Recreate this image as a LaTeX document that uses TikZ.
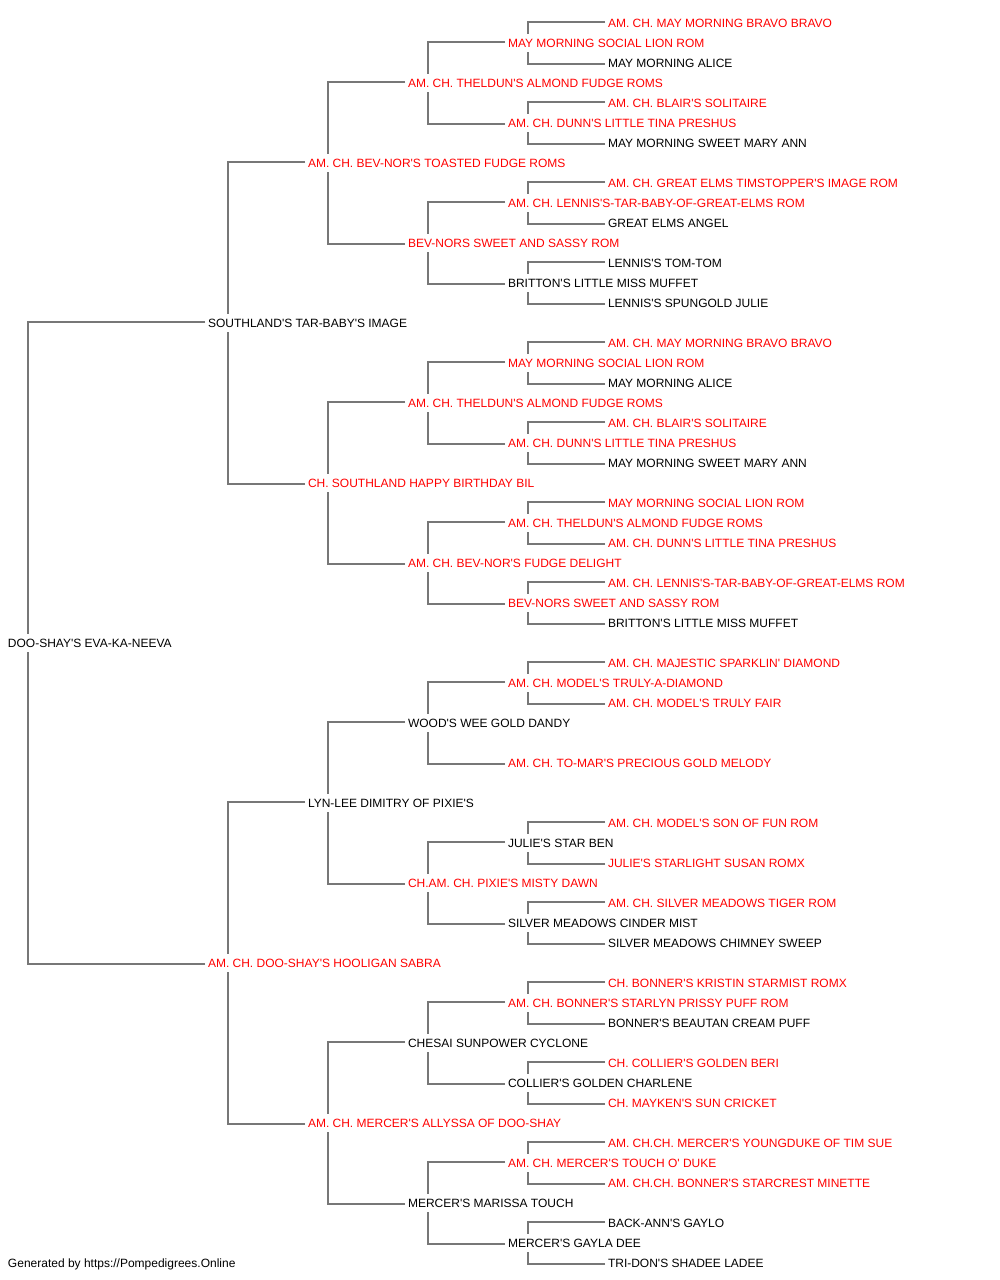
\documentclass[tikz,border=0pt]{standalone}
\usepackage{fontspec}
\setmainfont{Liberation Sans}[Ligatures=TeXOff]
\definecolor{pedred}{RGB}{255,0,0}
\definecolor{pedline}{RGB}{119,119,119}
\tikzset{
  nm/.style={anchor=west, inner sep=0pt, outer sep=0pt, text height=8.6pt, text depth=0pt, font=\fontsize{12pt}{14pt}\selectfont, text=black},
  rd/.style={nm, text=pedred},
  conn/.style={draw=pedline, line width=2pt}
}
\newcommand\pedlinkup[2]{\draw[conn] ([xshift=-3pt,yshift=0.8pt]#2.west) -| ([xshift=20pt,yshift=9pt]#1.west);}
\newcommand\pedlinkdn[2]{\draw[conn] ([xshift=-3pt,yshift=-1.2pt]#2.west) -| ([xshift=20pt,yshift=-9pt]#1.west);}
\newcommand\pedfam[3]{\pedlinkup{#1}{#2}\pedlinkdn{#1}{#3}}
\begin{document}
\begin{tikzpicture}[x=1pt,y=-1pt]
\useasboundingbox[fill=white] (0,0) rectangle (1000,1280);
% generation 0
\node[nm] (n1) at (8,643) {DOO-SHAY'S EVA-KA-NEEVA};
% generation 1
\node[nm] (n2) at (208,323) {SOUTHLAND'S TAR-BABY'S IMAGE};
\node[rd] (n3) at (208,963) {AM. CH. DOO-SHAY'S HOOLIGAN SABRA};
% generation 2
\node[rd] (n4) at (308,163) {AM. CH. BEV-NOR'S TOASTED FUDGE ROMS};
\node[rd] (n5) at (308,483) {CH. SOUTHLAND HAPPY BIRTHDAY BIL};
\node[nm] (n6) at (308,803) {LYN-LEE DIMITRY OF PIXIE'S};
\node[rd] (n7) at (308,1123) {AM. CH. MERCER'S ALLYSSA OF DOO-SHAY};
% generation 3
\node[rd] (n8) at (408,83) {AM. CH. THELDUN'S ALMOND FUDGE ROMS};
\node[rd] (n9) at (408,243) {BEV-NORS SWEET AND SASSY ROM};
\node[rd] (n10) at (408,403) {AM. CH. THELDUN'S ALMOND FUDGE ROMS};
\node[rd] (n11) at (408,563) {AM. CH. BEV-NOR'S FUDGE DELIGHT};
\node[nm] (n12) at (408,723) {WOOD'S WEE GOLD DANDY};
\node[rd] (n13) at (408,883) {CH.AM. CH. PIXIE'S MISTY DAWN};
\node[nm] (n14) at (408,1043) {CHESAI SUNPOWER CYCLONE};
\node[nm] (n15) at (408,1203) {MERCER'S MARISSA TOUCH};
% generation 4
\node[rd] (n16) at (508,43) {MAY MORNING SOCIAL LION ROM};
\node[rd] (n17) at (508,123) {AM. CH. DUNN'S LITTLE TINA PRESHUS};
\node[rd] (n18) at (508,203) {AM. CH. LENNIS'S-TAR-BABY-OF-GREAT-ELMS ROM};
\node[nm] (n19) at (508,283) {BRITTON'S LITTLE MISS MUFFET};
\node[rd] (n20) at (508,363) {MAY MORNING SOCIAL LION ROM};
\node[rd] (n21) at (508,443) {AM. CH. DUNN'S LITTLE TINA PRESHUS};
\node[rd] (n22) at (508,523) {AM. CH. THELDUN'S ALMOND FUDGE ROMS};
\node[rd] (n23) at (508,603) {BEV-NORS SWEET AND SASSY ROM};
\node[rd] (n24) at (508,683) {AM. CH. MODEL'S TRULY-A-DIAMOND};
\node[rd] (n25) at (508,763) {AM. CH. TO-MAR'S PRECIOUS GOLD MELODY};
\node[nm] (n26) at (508,843) {JULIE'S STAR BEN};
\node[nm] (n27) at (508,923) {SILVER MEADOWS CINDER MIST};
\node[rd] (n28) at (508,1003) {AM. CH. BONNER'S STARLYN PRISSY PUFF ROM};
\node[nm] (n29) at (508,1083) {COLLIER'S GOLDEN CHARLENE};
\node[rd] (n30) at (508,1163) {AM. CH. MERCER'S TOUCH O' DUKE};
\node[nm] (n31) at (508,1243) {MERCER'S GAYLA DEE};
% generation 5
\node[rd] (n32) at (608,23) {AM. CH. MAY MORNING BRAVO BRAVO};
\node[nm] (n33) at (608,63) {MAY MORNING ALICE};
\node[rd] (n34) at (608,103) {AM. CH. BLAIR'S SOLITAIRE};
\node[nm] (n35) at (608,143) {MAY MORNING SWEET MARY ANN};
\node[rd] (n36) at (608,183) {AM. CH. GREAT ELMS TIMSTOPPER'S IMAGE ROM};
\node[nm] (n37) at (608,223) {GREAT ELMS ANGEL};
\node[nm] (n38) at (608,263) {LENNIS'S TOM-TOM};
\node[nm] (n39) at (608,303) {LENNIS'S SPUNGOLD JULIE};
\node[rd] (n40) at (608,343) {AM. CH. MAY MORNING BRAVO BRAVO};
\node[nm] (n41) at (608,383) {MAY MORNING ALICE};
\node[rd] (n42) at (608,423) {AM. CH. BLAIR'S SOLITAIRE};
\node[nm] (n43) at (608,463) {MAY MORNING SWEET MARY ANN};
\node[rd] (n44) at (608,503) {MAY MORNING SOCIAL LION ROM};
\node[rd] (n45) at (608,543) {AM. CH. DUNN'S LITTLE TINA PRESHUS};
\node[rd] (n46) at (608,583) {AM. CH. LENNIS'S-TAR-BABY-OF-GREAT-ELMS ROM};
\node[nm] (n47) at (608,623) {BRITTON'S LITTLE MISS MUFFET};
\node[rd] (n48) at (608,663) {AM. CH. MAJESTIC SPARKLIN' DIAMOND};
\node[rd] (n49) at (608,703) {AM. CH. MODEL'S TRULY FAIR};
\node[rd] (n52) at (608,823) {AM. CH. MODEL'S SON OF FUN ROM};
\node[rd] (n53) at (608,863) {JULIE'S STARLIGHT SUSAN ROMX};
\node[rd] (n54) at (608,903) {AM. CH. SILVER MEADOWS TIGER ROM};
\node[nm] (n55) at (608,943) {SILVER MEADOWS CHIMNEY SWEEP};
\node[rd] (n56) at (608,983) {CH. BONNER'S KRISTIN STARMIST ROMX};
\node[nm] (n57) at (608,1023) {BONNER'S BEAUTAN CREAM PUFF};
\node[rd] (n58) at (608,1063) {CH. COLLIER'S GOLDEN BERI};
\node[rd] (n59) at (608,1103) {CH. MAYKEN'S SUN CRICKET};
\node[rd] (n60) at (608,1143) {AM. CH.CH. MERCER'S YOUNGDUKE OF TIM SUE};
\node[rd] (n61) at (608,1183) {AM. CH.CH. BONNER'S STARCREST MINETTE};
\node[nm] (n62) at (608,1223) {BACK-ANN'S GAYLO};
\node[nm] (n63) at (608,1263) {TRI-DON'S SHADEE LADEE};
% footer
\node[nm] (foot) at (8,1263) {Generated by https://Pompedigrees.Online};
% connectors
\pedfam{n1}{n2}{n3}
\pedfam{n2}{n4}{n5}
\pedfam{n3}{n6}{n7}
\pedfam{n4}{n8}{n9}
\pedfam{n5}{n10}{n11}
\pedfam{n6}{n12}{n13}
\pedfam{n7}{n14}{n15}
\pedfam{n8}{n16}{n17}
\pedfam{n9}{n18}{n19}
\pedfam{n10}{n20}{n21}
\pedfam{n11}{n22}{n23}
\pedfam{n12}{n24}{n25}
\pedfam{n13}{n26}{n27}
\pedfam{n14}{n28}{n29}
\pedfam{n15}{n30}{n31}
\pedfam{n16}{n32}{n33}
\pedfam{n17}{n34}{n35}
\pedfam{n18}{n36}{n37}
\pedfam{n19}{n38}{n39}
\pedfam{n20}{n40}{n41}
\pedfam{n21}{n42}{n43}
\pedfam{n22}{n44}{n45}
\pedfam{n23}{n46}{n47}
\pedfam{n24}{n48}{n49}
\pedfam{n26}{n52}{n53}
\pedfam{n27}{n54}{n55}
\pedfam{n28}{n56}{n57}
\pedfam{n29}{n58}{n59}
\pedfam{n30}{n60}{n61}
\pedfam{n31}{n62}{n63}
\end{tikzpicture}
\end{document}
